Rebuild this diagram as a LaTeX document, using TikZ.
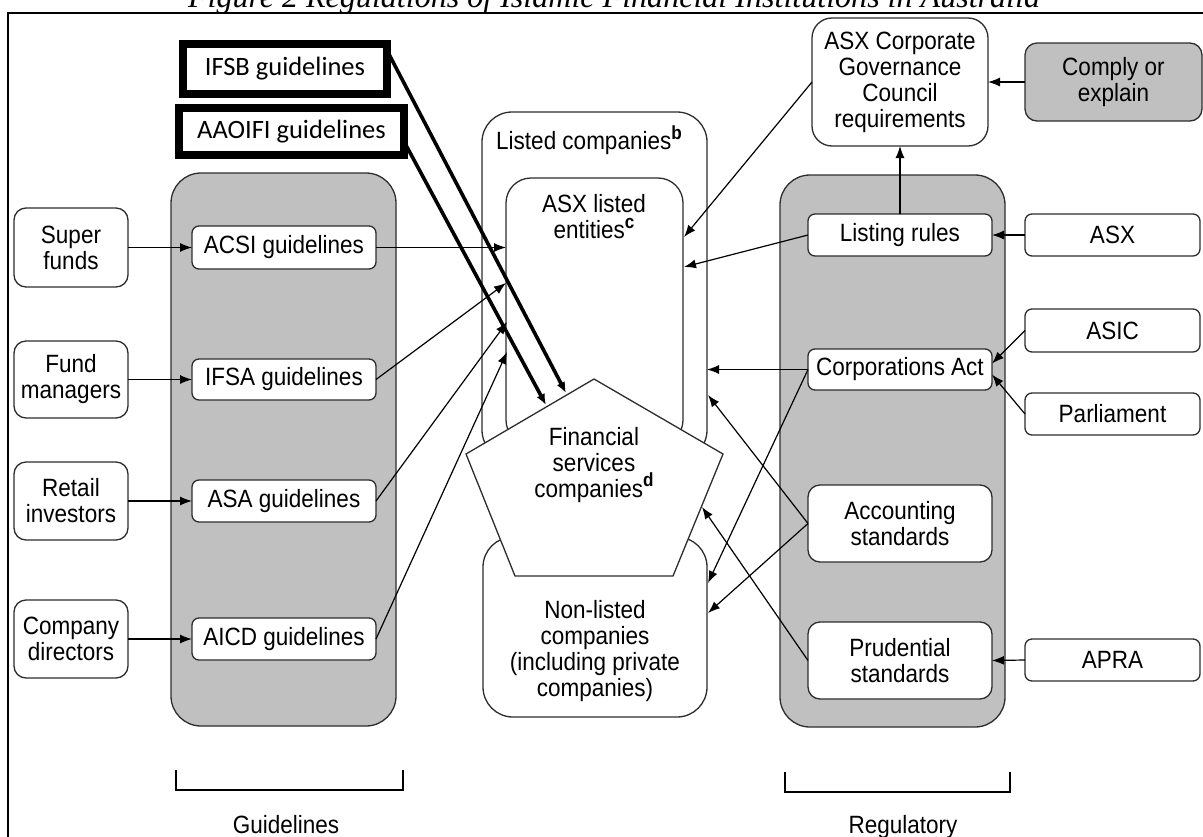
\documentclass[tikz,border=0pt]{standalone}
\usepackage{fontspec}
\setmainfont{Liberation Sans}[FakeStretch=0.9]
\newfontfamily\calib{Carlito}
\newfontfamily\capfont{Liberation Serif}
\usetikzlibrary{arrows.meta,calc}
\definecolor{panelgray}{RGB}{192,192,192}
\definecolor{edge}{RGB}{45,45,45}
\newcommand{\supl}[1]{\raisebox{0.42em}{\fontsize{19}{19}\selectfont\bfseries #1}}
\begin{document}
\begin{tikzpicture}[x=1pt,y=-1pt,
  every node/.style={font=\fontsize{25}{26}\selectfont, align=center, inner sep=0pt, outer sep=0pt, text=black},
  box/.style={draw=edge, line width=1.3pt, rounded corners=7pt, fill=white},
  bigbox/.style={box, rounded corners=12pt},
  panel/.style={draw=edge, line width=1.3pt, rounded corners=30pt, fill=panelgray},
  frame/.style={draw=edge, line width=1.3pt, rounded corners=30pt, fill=white},
  thickbox/.style={draw=black, line width=8pt, fill=white, font=\calib\fontsize{26.5}{28}\selectfont},
  arr/.style={draw=black, line width=1.2pt, -{Latex[length=12pt,width=9pt]}},
  tarr/.style={draw=black, line width=3.6pt, -{Latex[length=11pt,width=9pt]}},
  plain/.style={draw=black, line width=1.2pt}
]
\useasboundingbox (0,0) rectangle (1203,836);
\clip (0,0) rectangle (1203,836);

% caption and frame
\node[anchor=base] (cap) at (614,7.5) {\resizebox{852pt}{!}{\capfont\itshape Figure 2 Regulations of Islamic Financial Institutions in Australia}};
\draw[line width=2pt] (7.5,860) -- (7.5,12.6) -- (1215,12.6);

% panels
\node[panel, minimum width=225pt, minimum height=553pt] (gpanel) at (283.5,449.5) {};
\node[panel, minimum width=225pt, minimum height=552pt] (rpanel) at (892.5,451) {};

% left column
\node[bigbox, minimum width=114pt, minimum height=79pt] (super) at (71,247.5) {Super\\funds};
\node[bigbox, minimum width=114pt, minimum height=77pt] (fund) at (71,379.5) {Fund\\managers};
\node[bigbox, minimum width=114pt, minimum height=78pt] (retail) at (71,501) {Retail\\investors};
\node[bigbox, minimum width=114pt, minimum height=78pt] (company) at (71,639) {Company\\directors};

\node[box, minimum width=184pt, minimum height=43pt] (acsi) at (284,247.5) {ACSI guidelines};
\node[box, minimum width=184pt, minimum height=41pt] (ifsa) at (284,379.5) {IFSA guidelines};
\node[box, minimum width=184pt, minimum height=42pt] (asa) at (284,501) {ASA guidelines};
\node[box, minimum width=184pt, minimum height=42pt] (aicd) at (284,639) {AICD guidelines};

% Islamic guideline boxes
\node[thickbox, minimum width=204pt, minimum height=50pt] (ifsb) at (285,68.5) {IFSB guidelines};
\node[thickbox, minimum width=225pt, minimum height=47pt] (aaoifi) at (291.5,131.5) {AAOIFI guidelines};

% middle
\node[frame, minimum width=225pt, minimum height=348pt] (listed) at (594.5,286) {};
\node (listedlbl) at (589,140) {Listed companies\supl{b}};
\node[frame, rounded corners=25pt, minimum width=177pt, minimum height=267pt] (asxle) at (594.5,311.5) {};
\node (asxlelbl) at (594,217) {ASX listed\\entities\supl{c}};
\node[frame, minimum width=224pt, minimum height=180pt] (nonlisted) at (595,627) {};
\node (nonlistedlbl) at (595,651) {Non-listed\\companies\\(including private\\companies)};

\coordinate (pa) at (594,379);
\coordinate (pb) at (723,454);
\coordinate (pc) at (673,576);
\coordinate (pd) at (515,576);
\coordinate (pe) at (466,454);
\draw[draw=edge, line width=1.3pt, fill=white] (pa) -- (pb) -- (pc) -- (pd) -- (pe) -- cycle;
\node (fin) at (594,465) {Financial\\services\\companies\supl{d}};

% right column
\node[bigbox, rounded corners=20pt, minimum width=176pt, minimum height=128pt] (asxcorp) at (900,82) {ASX Corporate\\Governance\\Council\\requirements};
\node[bigbox, fill=panelgray, minimum width=177pt, minimum height=78pt] (comply) at (1113.5,82) {Comply or\\explain};

\node[box, minimum width=184pt, minimum height=42pt] (listing) at (900,235) {Listing rules};
\node[box, minimum width=184pt, minimum height=41pt] (corp) at (900,369.5) {Corporations Act};
\node[bigbox, minimum width=184pt, minimum height=77pt] (accounting) at (900,523.5) {Accounting\\standards};
\node[bigbox, minimum width=184pt, minimum height=77pt] (prudential) at (900,660.5) {Prudential\\standards};

\node[box, minimum width=175pt, minimum height=42pt] (asx) at (1112.5,235) {ASX};
\node[box, minimum width=175pt, minimum height=43pt] (asic) at (1112.5,330.5) {ASIC};
\node[box, minimum width=175pt, minimum height=42pt] (parliament) at (1112.5,414) {Parliament};
\node[box, minimum width=175pt, minimum height=42pt] (apra) at (1112.5,660) {APRA};

% brackets and labels
\draw[plain] (176,770) -- (176,790) -- (403,790) -- (403,770);
\draw[plain] (785,772) -- (785,792) -- (1010,792) -- (1010,772);
\node (glbl) at (286,825) {Guidelines};
\node (rlbl) at (903,827) {Regulatory};

% end points of connectors
\coordinate (le2) at (506,283);
\coordinate (le3) at (507,322);
\coordinate (le4) at (507,352);
\coordinate (re0) at (684,237);
\coordinate (re1) at (684,267);
\coordinate (lc1) at (708,395);
\coordinate (pr) at (702,507);
\coordinate (nl1) at (708,583);
\coordinate (nl2) at (708,613);
\coordinate (pt1) at (566,393);
\coordinate (pt2) at (546,405);

% left arrows
\draw[arr] (super.east) -- (acsi.west);
\draw[arr] (fund.east) -- (ifsa.west);
\draw[arr] (retail.east) -- (asa.west);
\draw[arr] (company.east) -- (aicd.west);
\draw[arr] (acsi.east) -- (acsi.east -| asxle.west);
\draw[arr] (ifsa.east) -- (le2);
\draw[arr] (asa.east) -- (le3);
\draw[arr] (aicd.east) -- (le4);

% thick arrows
\draw[tarr] ([yshift=-7pt]ifsb.north east) -- (pt1);
\draw[tarr] ([yshift=-10pt]aaoifi.east) -- (pt2);

% right arrows
\draw[arr] (comply.west) -- (asxcorp.east);
\draw[arr] (listing.north) -- (asxcorp.south);
\draw[arr] (asxcorp.west) -- (re0);
\draw[arr] (listing.west) -- (re1);
\draw[arr] (asx.west) -- (listing.east);
\draw[arr] (asic.west) -- ([yshift=6pt]corp.east);
\draw[arr] (parliament.west) -- ([yshift=-5pt]corp.east);
\draw[arr] (corp.west) -- (corp.west -| listed.east);
\draw[arr] (accounting.west) -- (lc1);
\draw[arr] (prudential.west) -- (pr);
\draw[arr] (corp.west) -- (nl1);
\draw[arr] (accounting.west) -- (nl2);
\draw[arr] (apra.west) -- (prudential.east);
\end{tikzpicture}
\end{document}
